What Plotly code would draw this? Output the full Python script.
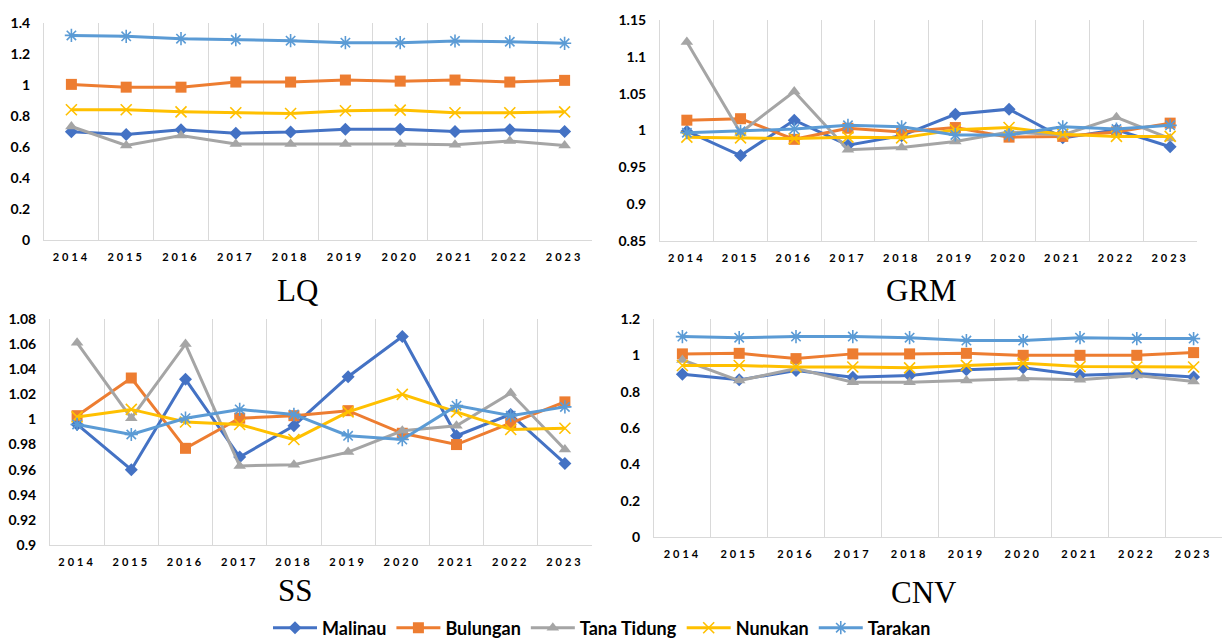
import plotly.graph_objects as go

# ---------------- data ----------------
years = [2014, 2015, 2016, 2017, 2018, 2019, 2020, 2021, 2022, 2023]
year_labels = ["2014", "2015", "2016", "2017", "2018", "2019", "2020", "2021", "2022", "2023"]
districts = ["Malinau", "Bulungan", "Tana Tidung", "Nunukan", "Tarakan"]

# LQ
lq_malinau = [0.698, 0.681, 0.711, 0.689, 0.696, 0.715, 0.715, 0.700, 0.711, 0.700]
lq_bulungan = [1.004, 0.986, 0.986, 1.019, 1.019, 1.032, 1.025, 1.032, 1.019, 1.030]
lq_tana_tidung = [0.732, 0.610, 0.674, 0.620, 0.620, 0.620, 0.620, 0.614, 0.638, 0.610]
lq_nunukan = [0.840, 0.840, 0.827, 0.821, 0.816, 0.834, 0.838, 0.821, 0.821, 0.827]
lq_tarakan = [1.320, 1.314, 1.299, 1.292, 1.286, 1.273, 1.273, 1.284, 1.279, 1.269]

# GRM
grm_malinau = [0.999, 0.966, 1.014, 0.980, 0.993, 1.022, 1.029, 0.990, 1.001, 0.978]
grm_bulungan = [1.014, 1.016, 0.988, 1.003, 0.998, 1.004, 0.991, 0.992, 0.998, 1.010]
grm_tana_tidung = [1.120, 0.997, 1.053, 0.974, 0.977, 0.985, 0.998, 0.994, 1.018, 0.989]
grm_nunukan = [0.991, 0.990, 0.989, 0.991, 0.990, 1.001, 1.004, 0.995, 0.992, 0.992]
grm_tarakan = [0.997, 0.999, 1.002, 1.007, 1.005, 0.994, 0.994, 1.005, 1.002, 1.007]

# SS
ss_malinau = [0.996, 0.960, 1.032, 0.970, 0.995, 1.034, 1.066, 0.987, 1.004, 0.965]
ss_bulungan = [1.003, 1.033, 0.977, 1.001, 1.003, 1.007, 0.989, 0.980, 0.997, 1.014]
ss_tana_tidung = [1.061, 1.001, 1.060, 0.963, 0.964, 0.974, 0.991, 0.995, 1.021, 0.976]
ss_nunukan = [1.002, 1.008, 0.998, 0.996, 0.984, 1.006, 1.020, 1.006, 0.992, 0.993]
ss_tarakan = [0.996, 0.988, 1.001, 1.008, 1.004, 0.987, 0.984, 1.011, 1.003, 1.010]

# CNV
cnv_malinau = [0.896, 0.865, 0.916, 0.879, 0.889, 0.920, 0.931, 0.890, 0.900, 0.881]
cnv_bulungan = [1.008, 1.011, 0.982, 1.008, 1.008, 1.011, 1.000, 1.000, 1.000, 1.015]
cnv_tana_tidung = [0.975, 0.861, 0.927, 0.852, 0.852, 0.861, 0.872, 0.865, 0.889, 0.856]
cnv_nunukan = [0.944, 0.944, 0.936, 0.936, 0.931, 0.945, 0.956, 0.938, 0.936, 0.936]
cnv_tarakan = [1.103, 1.097, 1.103, 1.103, 1.097, 1.081, 1.081, 1.097, 1.092, 1.092]

panel_titles = ["LQ", "GRM", "SS", "CNV"]

lq_ticks = [0, 0.2, 0.4, 0.6, 0.8, 1.0, 1.2, 1.4]
lq_ticklabels = ["0", "0.2", "0.4", "0.6", "0.8", "1", "1.2", "1.4"]
grm_ticks = [0.85, 0.9, 0.95, 1.0, 1.05, 1.1, 1.15]
grm_ticklabels = ["0.85", "0.9", "0.95", "1", "1.05", "1.1", "1.15"]
ss_ticks = [0.9, 0.92, 0.94, 0.96, 0.98, 1.0, 1.02, 1.04, 1.06, 1.08]
ss_ticklabels = ["0.9", "0.92", "0.94", "0.96", "0.98", "1", "1.02", "1.04", "1.06", "1.08"]
cnv_ticks = [0, 0.2, 0.4, 0.6, 0.8, 1.0, 1.2]
cnv_ticklabels = ["0", "0.2", "0.4", "0.6", "0.8", "1", "1.2"]

# ---------------- styling ----------------
colors = ["#4472C4", "#ED7D31", "#A5A5A5", "#FFC000", "#5B9BD5"]
symbols = ["diamond", "square", "triangle-up", "x-thin", "asterisk"]
msizes = [10, 11, 11, 11, 11]
grid_col = "#D9D9D9"
W, H = 1222, 639

panels = [
    dict(series=[lq_malinau, lq_bulungan, lq_tana_tidung, lq_nunukan, lq_tarakan],
         ticks=lq_ticks, labels=lq_ticklabels, rng=[0, 1.4],
         px=(44, 592), py=(23, 240), title_pos=(297, 290)),
    dict(series=[grm_malinau, grm_bulungan, grm_tana_tidung, grm_nunukan, grm_tarakan],
         ticks=grm_ticks, labels=grm_ticklabels, rng=[0.85, 1.15],
         px=(660, 1197), py=(20, 241), title_pos=(921, 290)),
    dict(series=[ss_malinau, ss_bulungan, ss_tana_tidung, ss_nunukan, ss_tarakan],
         ticks=ss_ticks, labels=ss_ticklabels, rng=[0.9, 1.08],
         px=(50, 592), py=(319, 545), title_pos=(295, 590)),
    dict(series=[cnv_malinau, cnv_bulungan, cnv_tana_tidung, cnv_nunukan, cnv_tarakan],
         ticks=cnv_ticks, labels=cnv_ticklabels, rng=[0, 1.2],
         px=(654, 1222), py=(319, 537), title_pos=(924, 592)),
]

fig = go.Figure()
layout_axes = {}
annotations = []
tick_font = dict(family="Lato, Open Sans, sans-serif", size=14, color="#000000", weight="bold")
year_font = dict(family="Lato, Open Sans, sans-serif", size=11, color="#000000", weight="bold")
spaced_years = ['<span style="letter-spacing:3px">%s</span>' % t for t in year_labels]

for i, p in enumerate(panels):
    k = "" if i == 0 else str(i + 1)
    for j, name in enumerate(districts):
        open_sym = symbols[j] in ("x-thin", "asterisk")
        fig.add_trace(go.Scatter(
            x=years, y=p["series"][j], name=name, mode="lines+markers",
            xaxis="x" + k, yaxis="y" + k, cliponaxis=False,
            line=dict(color=colors[j], width=3),
            marker=dict(symbol=symbols[j], size=msizes[j], color=colors[j],
                        line=dict(color=colors[j], width=1.6 if open_sym else 0)),
            showlegend=(i == 0), legendgroup=name,
        ))
    x0, x1 = p["px"]
    y0, y1 = p["py"]
    layout_axes["xaxis" + k] = dict(
        domain=[x0 / W, x1 / W], anchor="y" + k,
        range=[2013.5, 2023.5], tickmode="array", tickvals=years, ticktext=spaced_years,
        showgrid=False, zeroline=False, ticks="",
        showline=True, linecolor=grid_col, linewidth=1,
        tickfont=year_font, ticklabelstandoff=7, ticklabeloverflow="allow",
        minor=dict(tickmode="array", tickvals=[y - 0.5 for y in years],
                   showgrid=True, gridcolor=grid_col, gridwidth=1, ticks=""),
        fixedrange=True,
    )
    layout_axes["yaxis" + k] = dict(
        domain=[1 - y1 / H, 1 - y0 / H], anchor="x" + k,
        range=p["rng"], tickmode="array", tickvals=p["ticks"], ticktext=p["labels"],
        showgrid=False, zeroline=False, ticks="",
        showline=True, linecolor=grid_col, linewidth=1,
        tickfont=tick_font, ticklabelstandoff=10, fixedrange=True,
    )
    tx, ty = p["title_pos"]
    annotations.append(dict(
        text=panel_titles[i], x=tx / W, y=1 - ty / H, xref="paper", yref="paper",
        xanchor="center", yanchor="middle", showarrow=False,
        font=dict(family="Liberation Serif, Times New Roman, serif", size=31, color="#000000"),
    ))

fig.update_layout(
    width=W, height=H,
    margin=dict(l=0, r=0, t=0, b=0, autoexpand=False),
    paper_bgcolor="white", plot_bgcolor="white",
    showlegend=True,
    legend=dict(orientation="h", xref="container", yref="container",
                x=602 / W, xanchor="center", y=1 - 628 / H, yanchor="middle",
                font=dict(family="Lato, Open Sans, sans-serif", size=18, color="#000000", weight="bold"),
                itemwidth=44, bgcolor="rgba(0,0,0,0)", tracegroupgap=0),
    annotations=annotations,
    **layout_axes,
)

fig.write_html("out.html", config={"displayModeBar": False},
               post_script="document.body.style.margin='0';document.body.style.overflow='hidden';")
